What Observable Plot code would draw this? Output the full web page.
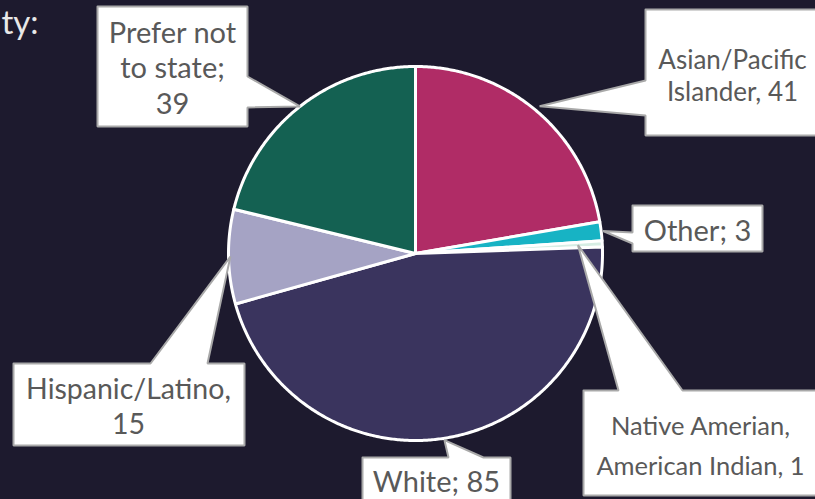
<!DOCTYPE html>
<html><head><meta charset="utf-8">
<script src="https://cdn.jsdelivr.net/npm/d3@7"></script>
<script src="https://cdn.jsdelivr.net/npm/@observablehq/plot@0.6"></script>
<style>html,body{margin:0;padding:0;background:#1d1a2e;overflow:hidden}</style>
</head><body><div id="chart"></div>
<script>
// ---- data ----
const categories = ["Asian/Pacific Islander", "Other", "Native American, American Indian", "White", "Hispanic/Latino", "Prefer not to state"];
const values = [41, 3, 1, 85, 15, 39];
const labels = ["Asian/Pacific\nIslander, 41", "Other; 3", "Native Amerian,\nAmerican Indian, 1", "White; 85", "Hispanic/Latino,\n15", "Prefer not\nto state;\n39"];
const colors = ["#b02c66", "#17b3c4", "#d6ede4", "#3a345e", "#a5a3c4", "#146152"];
const titleText = "ty:";

// ---- layout (pixels) ----
const W = 815, H = 499, CX = 415, CY = 253, R = 187;
const layout = [
  {box: [645, 9, 816, 135], side: "left", base: [80, 115], tipR: 1.03, tx: 732, ty: 100, size: 26, small: false},
  {box: [632, 205, 762, 251], side: "left", base: [232, 243], tipR: 1.01, tx: 697, ty: 240, size: 29, small: false},
  {box: [583, 390, 816, 495], side: "top", base: [618, 682], tipR: 0.87, tx: 700, ty: 474, size: 25.5, small: true},
  {box: [362, 457, 510, 510], side: "top", base: [448, 483], tipR: 1.01, tx: 436, ty: 491, size: 29, small: false},
  {box: [13, 363, 244, 445], side: "top", base: [150, 207], tipR: 0.99, tx: 128, ty: 433, size: 28.5, small: false},
  {box: [97, 6, 247, 126], side: "right", base: [76, 107], tipR: 1.0, tx: 172, ty: 113, size: 29, small: false}
];

const arcs = d3.pie().sort(null).value(d => d)(values);
const pt = (a, r) => [CX + r * Math.sin(a), CY - r * Math.cos(a)];

// slice polygons
const slicePts = [];
arcs.forEach((a, i) => {
  slicePts.push({cat: categories[i], x: CX, y: CY});
  const n = Math.max(2, Math.ceil((a.endAngle - a.startAngle) / (Math.PI / 360)));
  for (let k = 0; k <= n; k++) {
    const ang = a.startAngle + (a.endAngle - a.startAngle) * k / n;
    const [x, y] = pt(ang, R);
    slicePts.push({cat: categories[i], x, y});
  }
  slicePts.push({cat: categories[i], x: CX, y: CY});
});

// callout polygons
const calloutPts = [];
const textRows = [];
arcs.forEach((a, i) => {
  const L = layout[i];
  const mid = (a.startAngle + a.endAngle) / 2;
  const tip = pt(mid, R * L.tipR);
  const [x0, y0, x1, y1] = L.box;
  const [b1, b2] = L.base;
  let v;
  if (L.side === "left") v = [[x0, y0], [x1, y0], [x1, y1], [x0, y1], [x0, b2], tip, [x0, b1], [x0, y0]];
  else if (L.side === "right") v = [[x0, y0], [x1, y0], [x1, b1], tip, [x1, b2], [x1, y1], [x0, y1], [x0, y0]];
  else v = [[x0, y0], [b1, y0], tip, [b2, y0], [x1, y0], [x1, y1], [x0, y1], [x0, y0]];
  v.forEach(([x, y]) => calloutPts.push({id: categories[i], x, y}));
  textRows.push({label: labels[i], x: L.tx, y: L.ty, size: L.size, small: L.small});
});

const chart = Plot.plot({
  width: W, height: H,
  margin: 0,
  style: {background: "#1d1a2e", fontFamily: "Lato, sans-serif"},
  x: {domain: [0, W], range: [0, W], axis: null},
  y: {domain: [0, H], range: [0, H], axis: null},
  color: {domain: categories, range: colors},
  marks: [
    Plot.line(slicePts, {x: "x", y: "y", z: "cat", fill: "cat", stroke: "white", strokeWidth: 3, strokeLinejoin: "round"}),
    Plot.line(calloutPts, {x: "x", y: "y", z: "id", fill: "white", stroke: "#a9a9a9", strokeWidth: 2, strokeLinejoin: "miter"}),
    Plot.text(textRows.filter(d => !d.small), {x: "x", y: "y", text: "label", fontSize: "size", lineHeight: 1.22, lineAnchor: "bottom", fill: "#595959", textAnchor: "middle"}),
    Plot.text(textRows.filter(d => d.small), {x: "x", y: "y", text: "label", fontSize: "size", lineHeight: 1.55, lineAnchor: "bottom", fill: "#595959", textAnchor: "middle"}),
    Plot.text([titleText], {x: () => 38, y: () => 33, text: d => d, fontSize: 33, lineAnchor: "bottom", textAnchor: "end", fill: "#e8e8e8"})
  ]
});
document.getElementById("chart").appendChild(chart);
</script>
</body></html>
